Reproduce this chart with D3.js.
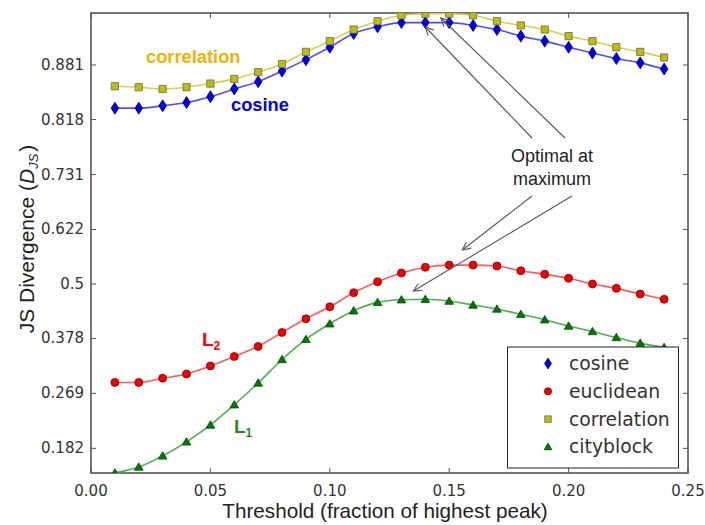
<!doctype html><html><head>
<style>
  body { margin: 0; background: #fff; }
  text { fill: #222; }
</style>
</head><body><script src='https://d3js.org/d3.v7.min.js'></script>

<script>
//  Dimensions
const xSize = 705;   const ySize = 525;
const plotL = 91, plotR = 688, plotT = 13, plotB = 473;

// Data
const threshold   = [0.01,0.02,0.03,0.04,0.05,0.06,0.07,0.08,0.09,0.10,0.11,0.12,
                     0.13,0.14,0.15,0.16,0.17,0.18,0.19,0.20,0.21,0.22,0.23,0.24];
const cosine      = [0.833,0.833,0.836,0.840,0.847,0.856,0.864,0.875,0.886,0.897,0.908,0.913,
                     0.916,0.916,0.916,0.914,0.911,0.906,0.902,0.897,0.892,0.887,0.883,0.877];
const euclidean   = [0.289,0.289,0.297,0.305,0.321,0.340,0.361,0.391,0.421,0.448,0.480,0.505,
                     0.525,0.538,0.543,0.543,0.541,0.530,0.522,0.513,0.500,0.490,0.477,0.465];
const correlation = [0.859,0.858,0.856,0.858,0.862,0.867,0.874,0.882,0.893,0.902,0.911,0.917,
                     0.921,0.922,0.922,0.921,0.917,0.914,0.911,0.906,0.902,0.897,0.893,0.888];
const cityblock   = [0.151,0.158,0.172,0.191,0.216,0.249,0.288,0.334,0.376,0.410,0.439,0.458,
                     0.464,0.465,0.461,0.452,0.443,0.431,0.419,0.405,0.393,0.380,0.368,0.359];

const xTicks      = [0, 0.05, 0.10, 0.15, 0.20, 0.25];
const yTickLabels = [0.182, 0.269, 0.378, 0.5, 0.622, 0.731, 0.818, 0.881];

const logit = p => Math.log(p / (1 - p));

const svg = d3.select("body").append("svg")
              .attr("width", xSize).attr("height", ySize)
              .style("font-family", "'DejaVu Sans', sans-serif");

// scales (y is a logit scale)
const x = d3.scaleLinear().domain([0, 0.25]).range([plotL, plotR]);
const yl = d3.scaleLinear().domain([-1.728, 2.477]).range([plotB, plotT]);
const y = v => yl(logit(v));

svg.append("clipPath").attr("id", "plot")
   .append("rect").attr("x", plotL).attr("y", plotT)
   .attr("width", plotR - plotL).attr("height", plotB - plotT);

// ticks (inward, all four sides)
const axisColor = "#555";
const tickG = svg.append("g").attr("stroke", axisColor).attr("stroke-width", 1);
xTicks.forEach(t => {
  tickG.append("line").attr("x1", x(t)).attr("x2", x(t)).attr("y1", plotB).attr("y2", plotB - 5);
  tickG.append("line").attr("x1", x(t)).attr("x2", x(t)).attr("y1", plotT).attr("y2", plotT + 5);
});
yTickLabels.forEach(t => {
  tickG.append("line").attr("x1", plotL).attr("x2", plotL + 5).attr("y1", y(t)).attr("y2", y(t));
  tickG.append("line").attr("x1", plotR).attr("x2", plotR - 5).attr("y1", y(t)).attr("y2", y(t));
});

svg.append("g").selectAll("text").data(xTicks).join("text")
   .attr("x", d => x(d)).attr("y", 496).attr("text-anchor", "middle")
   .attr("font-size", 15).style("fill", "#333")
   .text(d => d3.format(".2f")(d));

svg.append("g").selectAll("text").data(yTickLabels).join("text")
   .attr("x", 84).attr("y", d => y(d) + 5).attr("text-anchor", "end")
   .attr("font-size", 15).style("fill", "#333")
   .text(d => String(d));

// frame
svg.append("rect").attr("x", plotL).attr("y", plotT)
   .attr("width", plotR - plotL).attr("height", plotB - plotT)
   .attr("fill", "none").attr("stroke", axisColor).attr("stroke-width", 1.6);

// axis titles
svg.append("text").attr("x", 385).attr("y", 518).attr("text-anchor", "middle")
   .style("font-family", "'Liberation Sans', Arial, sans-serif").attr("font-size", 20.7)
   .text("Threshold (fraction of highest peak)");

const yt = svg.append("text").attr("transform", "translate(34,239) rotate(-90)")
   .attr("text-anchor", "middle")
   .style("font-family", "'Liberation Sans', Arial, sans-serif").attr("font-size", 21);
yt.append("tspan").text("JS Divergence (");
yt.append("tspan").attr("font-style", "italic").text("D");
yt.append("tspan").attr("font-style", "italic").attr("font-size", 13).attr("dy", 4).text("JS");
yt.append("tspan").attr("dy", -4).attr("dx", 2).text(")");

// series
const series = [
  {name: "cosine",      values: cosine,      line: "#4d4dff", fill: "#0000e6", edge: "#00008b", shape: "diamond"},
  {name: "euclidean",   values: euclidean,   line: "#ff5a5a", fill: "#f00000", edge: "#8b0000", shape: "circle"},
  {name: "correlation", values: correlation, line: "#d4d44a", fill: "#bfbf00", edge: "#666",    shape: "square"},
  {name: "cityblock",   values: cityblock,   line: "#4fae4f", fill: "#007a00", edge: "#004d00", shape: "triangle"}
];

function marker(shape, k = 1) {
  if (shape === "circle")   return d3.symbol(d3.symbolCircle, 50 * k * k)();
  if (shape === "square")   return d3.symbol(d3.symbolSquare, 52 * k * k)();
  if (shape === "triangle") return `M0,${-4.2 * k}L${4.3 * k},${3.2 * k}L${-4.3 * k},${3.2 * k}Z`;
  return `M0,${-6 * k}L${3.8 * k},0L0,${6 * k}L${-3.8 * k},0Z`;
}

const plot = svg.append("g").attr("clip-path", "url(#plot)");
const line = d3.line().curve(d3.curveMonotoneX);

series.forEach(s => {
  const pts = threshold.map((t, i) => [x(t), y(s.values[i])]);
  plot.append("path").datum(pts)
      .attr("fill", "none").attr("stroke", s.line).attr("stroke-width", 1.6)
      .attr("d", line);
});
series.forEach(s => {
  plot.append("g").selectAll("path").data(threshold).join("path")
      .attr("transform", (t, i) => `translate(${x(t)},${y(s.values[i])})`)
      .attr("d", marker(s.shape))
      .attr("fill", s.fill).attr("stroke", s.edge).attr("stroke-width", 0.8);
});

// inline labels
const lab = svg.append("g").style("font-family", "'Liberation Sans', Arial, sans-serif")
   .attr("font-weight", "bold").attr("font-size", 18.3);
lab.append("text").attr("x", 146).attr("y", 63).style("fill", "#f0b400").text("correlation");
lab.append("text").attr("x", 231).attr("y", 111).style("fill", "#0000ff").text("cosine");
const l2 = lab.append("text").attr("x", 202).attr("y", 346).style("fill", "#ff0000").attr("font-size", 19);
l2.append("tspan").text("L");
l2.append("tspan").attr("font-size", 12).attr("dy", 4).text("2");
const l1 = lab.append("text").attr("x", 234).attr("y", 433).style("fill", "#1e8c1e").attr("font-size", 19);
l1.append("tspan").text("L");
l1.append("tspan").attr("font-size", 12).attr("dy", 4).text("1");

// annotation
const ann = svg.append("g").style("font-family", "'Liberation Sans', Arial, sans-serif")
   .attr("font-size", 18).attr("text-anchor", "middle");
ann.append("text").attr("x", 552).attr("y", 162).text("Optimal at");
ann.append("text").attr("x", 552).attr("y", 185).text("maximum");

const arrows = [
  {from: [532, 138], to: [x(0.14), 27]},
  {from: [565, 138], to: [x(0.1465), 18]},
  {from: [532, 196], to: [x(0.1555), 250]},
  {from: [572, 196], to: [x(0.1350), 291]}
];
const ag = svg.append("g").attr("stroke", "#555").attr("stroke-width", 1.1).attr("fill", "none");
arrows.forEach(a => {
  ag.append("line").attr("x1", a.from[0]).attr("y1", a.from[1])
    .attr("x2", a.to[0]).attr("y2", a.to[1]);
  const ang = Math.atan2(a.from[1] - a.to[1], a.from[0] - a.to[0]);
  const hl = 9, spread = 0.45;
  const p1 = [a.to[0] + hl * Math.cos(ang + spread), a.to[1] + hl * Math.sin(ang + spread)];
  const p2 = [a.to[0] + hl * Math.cos(ang - spread), a.to[1] + hl * Math.sin(ang - spread)];
  ag.append("path").attr("d", `M${p1}L${a.to}L${p2}`);
});

// legend
const lg = svg.append("g");
lg.append("rect").attr("x", 507.5).attr("y", 347).attr("width", 171).attr("height", 121)
  .attr("fill", "#fff").attr("stroke", "#222").attr("stroke-width", 1);
series.forEach((s, i) => {
  const yy = 363.5 + i * 27.8;
  lg.append("path").attr("transform", `translate(548,${yy})`)
    .attr("d", marker(s.shape, 0.9))
    .attr("fill", s.fill).attr("stroke", s.edge).attr("stroke-width", 0.8);
  lg.append("text").attr("x", 569).attr("y", yy + 6.5).attr("font-size", 18.8)
    .style("fill", "#333").text(s.name);
});
</script></body></html>
